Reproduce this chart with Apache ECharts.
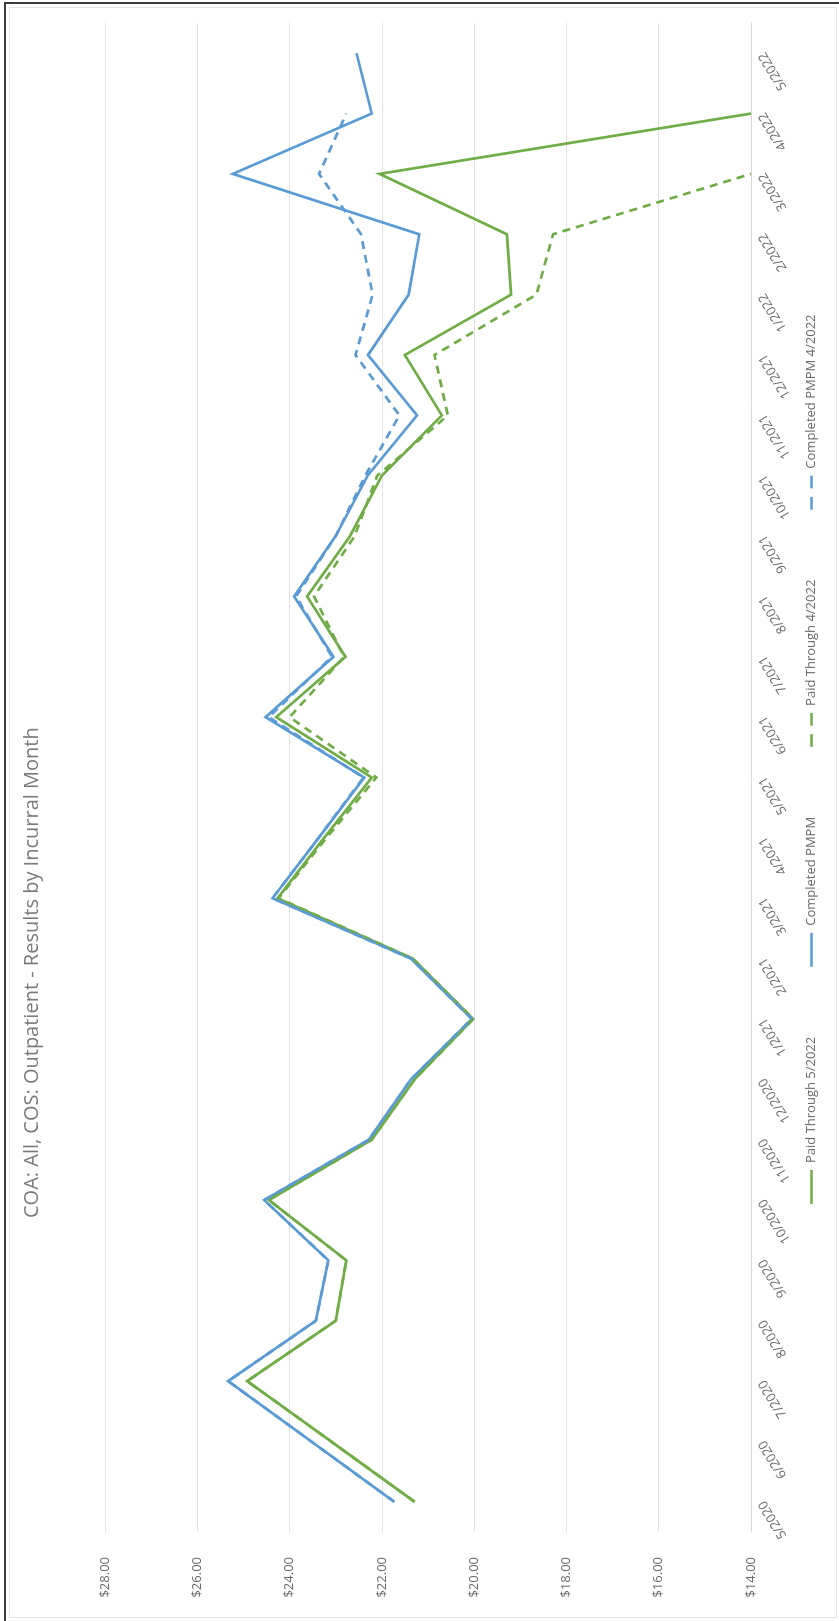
<!DOCTYPE html>
<html>
<head>
<meta charset="utf-8">
<title>COA: All, COS: Outpatient - Results by Incurral Month</title>
<script src="https://cdn.jsdelivr.net/npm/echarts@6/dist/echarts.min.js"></script>
<style>
  html, body { margin: 0; padding: 0; background: #fff; width: 839px; height: 1621px; overflow: hidden; }
  /* the chart is laid out landscape and turned a quarter-turn onto the portrait page */
  #chart {
    position: absolute; left: 0; top: 0;
    width: 1621px; height: 839px;
    transform-origin: 0 0;
    transform: translateY(1621px) rotate(-90deg);
  }
  .edge { position: absolute; background: #3c3c3c; z-index: 5; }
  #edge-top { left: 4px; top: 2px; width: 835px; height: 2px; }
  #edge-left { left: 4px; top: 2px; width: 2px; height: 1619px; }
  #inner { position: absolute; left: 9px; top: 7px; width: 826px; height: 1609px; border: 1px solid #e3e3e3; z-index: 4; pointer-events: none; }
</style>
</head>
<body>
<div id="chart"></div>
<div id="inner"></div>
<div class="edge" id="edge-top"></div>
<div class="edge" id="edge-left"></div>
<script>
// Incurral months, oldest first
const categories = [
  '5/2020', '6/2020', '7/2020', '8/2020', '9/2020', '10/2020', '11/2020', '12/2020',
  '1/2021', '2/2021', '3/2021', '4/2021', '5/2021', '6/2021', '7/2021', '8/2021',
  '9/2021', '10/2021', '11/2021', '12/2021', '1/2022', '2/2022', '3/2022', '4/2022', '5/2022'
];

// PMPM in dollars
const paidThrough0522 = [
  21.29, 23.10, 24.92, 23.00, 22.77, 24.45, 22.22, 21.29,
  20.02, 21.33, 24.26, 23.25, 22.22, 24.29, 22.79, 23.62,
  22.69, 22.00, 20.70, 21.50, 19.20, 19.29, 22.05, 14.00, null
];
const completedPmpm = [
  21.73, 23.53, 25.33, 23.43, 23.16, 24.55, 22.28, 21.37,
  20.05, 21.37, 24.37, 23.37, 22.38, 24.52, 23.05, 23.90,
  23.00, 22.31, 21.24, 22.30, 21.42, 21.19, 25.23, 22.22, 22.55
];
const paidThrough0422 = [
  21.29, 23.10, 24.92, 23.00, 22.77, 24.45, 22.22, 21.29,
  20.02, 21.33, 24.24, 23.20, 22.12, 24.00, 22.82, 23.47,
  22.59, 22.10, 20.57, 20.86, 18.65, 18.29, 14.00, null, null
];
const completedPmpm0422 = [
  21.73, 23.53, 25.33, 23.43, 23.16, 24.55, 22.28, 21.37,
  20.05, 21.37, 24.37, 23.37, 22.40, 24.45, 23.08, 23.86,
  23.00, 22.36, 21.62, 22.57, 22.20, 22.45, 23.36, 22.77, null
];

const valueMin = 14;
const valueMax = 28;
const valueStep = 2;

const GREEN = '#70ad47';
const BLUE = '#5b9bd5';
const FONT = 'Open Sans';

// legend swatches: a plain stroke, or two dashes for the dashed series
const SOLID_ICON = 'path://M0,0H40V3H0Z';
const DASH_ICON = 'path://M0,0H15V3H0Z M25,0H40V3H25Z';

function lineSeries(name, data, color, dashed, z) {
  return {
    name: name,
    type: 'line',
    data: data,
    symbol: 'none',
    showSymbol: false,
    connectNulls: false,
    z: z,
    itemStyle: { color: color },
    lineStyle: { color: color, width: 2.7, type: dashed ? [8, 6] : 'solid', cap: 'butt', join: 'miter' },
    emphasis: { disabled: true }
  };
}

function legendEntry(name, color, dashed) {
  return { name: name, icon: dashed ? DASH_ICON : SOLID_ICON, itemStyle: { color: color, borderWidth: 0 } };
}

const chart = echarts.init(document.getElementById('chart'), null, { renderer: 'canvas' });
chart.setOption({
  animation: false,
  backgroundColor: 'transparent',
  textStyle: { fontFamily: FONT },
  title: {
    text: 'COA: All, COS: Outpatient - Results by Incurral Month',
    left: 398,
    top: 17,
    textStyle: { fontFamily: FONT, fontSize: 20, fontWeight: 'normal', color: '#7b7b7b' }
  },
  legend: {
    bottom: 16,
    left: 412,
    itemWidth: 34,
    itemHeight: 3,
    itemGap: 70,
    itemStyle: { borderWidth: 0 },
    lineStyle: { width: 0 },
    textStyle: { fontFamily: FONT, fontSize: 13, color: '#6a6a6a', padding: [0, 0, 0, 2] },
    data: [
      legendEntry('Paid Through 5/2022', GREEN, false),
      legendEntry('Completed PMPM', BLUE, false),
      legendEntry('Paid Through 4/2022', GREEN, true),
      legendEntry('Completed PMPM 4/2022', BLUE, true)
    ]
  },
  grid: { left: 89, right: 23, top: 105, bottom: 88, containLabel: false },
  xAxis: {
    type: 'category',
    data: categories,
    boundaryGap: true,
    axisLine: { show: true, lineStyle: { color: '#d9d9d9', width: 1 } },
    axisTick: { show: false },
    axisLabel: { rotate: 31, margin: 11, fontSize: 13, color: '#6a6a6a', fontFamily: FONT, interval: 0 },
    splitLine: { show: false }
  },
  yAxis: {
    type: 'value',
    min: valueMin,
    max: valueMax,
    interval: valueStep,
    axisLine: { show: false },
    axisTick: { show: false },
    axisLabel: {
      margin: 25, fontSize: 13, color: '#6a6a6a', fontFamily: FONT,
      formatter: function (v) { return '$' + v.toFixed(2); }
    },
    splitLine: { show: true, lineStyle: { color: '#e2e2e2', width: 1 } }
  },
  series: [
    lineSeries('Paid Through 5/2022', paidThrough0522, GREEN, false, 2),
    lineSeries('Completed PMPM', completedPmpm, BLUE, false, 3),
    lineSeries('Paid Through 4/2022', paidThrough0422, GREEN, true, 4),
    lineSeries('Completed PMPM 4/2022', completedPmpm0422, BLUE, true, 5)
  ]
});
</script>
</body>
</html>
